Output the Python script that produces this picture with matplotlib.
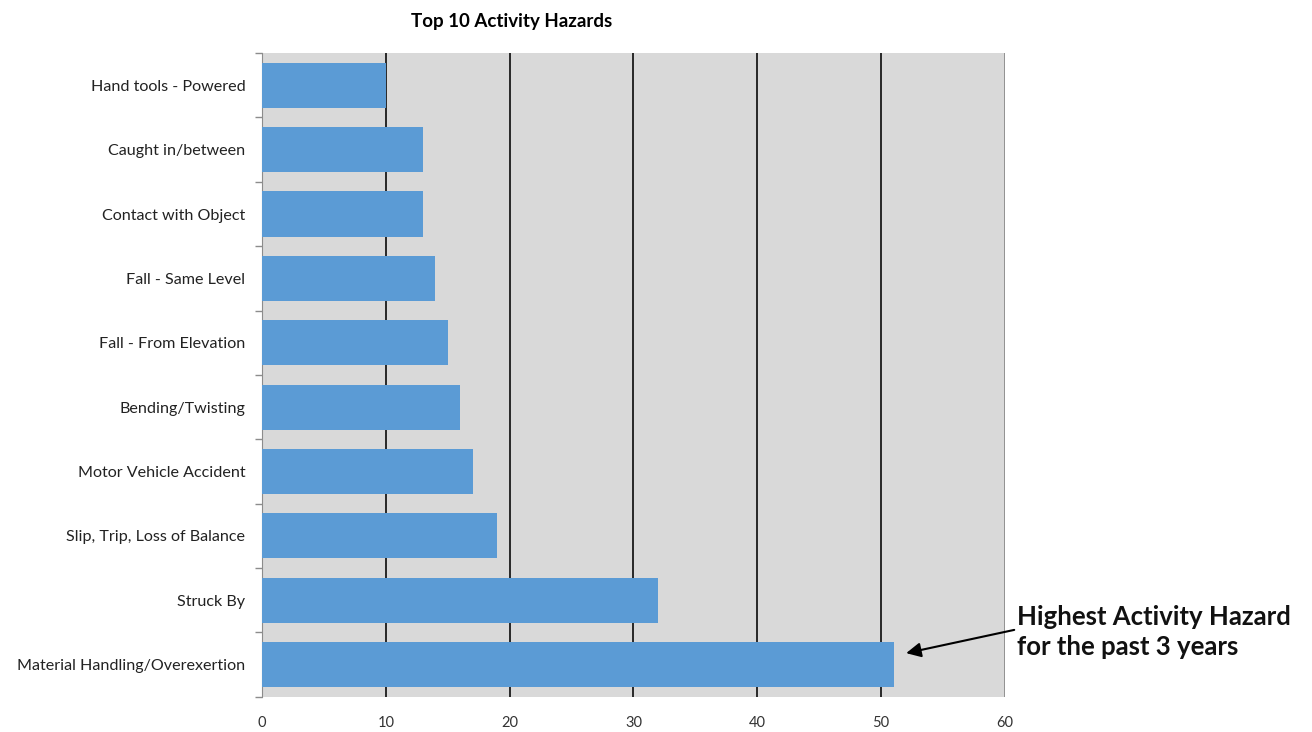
import matplotlib
matplotlib.use('Agg')
import matplotlib.pyplot as plt
from matplotlib.ticker import FixedLocator, NullFormatter

plt.rcParams['font.family'] = ['Lato', 'DejaVu Sans']

# categories from bottom to top, as drawn
hazards = [
    'Material Handling/Overexertion',
    'Struck By',
    'Slip, Trip, Loss of Balance',
    'Motor Vehicle Accident',
    'Bending/Twisting',
    'Fall - From Elevation',
    'Fall - Same Level',
    'Contact with Object',
    'Caught in/between',
    'Hand tools - Powered',
]
counts = [51, 32, 19, 17, 16, 15, 14, 13, 13, 10]
x_ticks = [0, 10, 20, 30, 40, 50, 60]

fig = plt.figure(figsize=(13.12, 7.32), dpi=100)
ax = fig.add_axes([0.1997, 0.048, 0.5663, 0.8795])
ax.set_facecolor('#d9d9d9')

ypos = list(range(len(hazards)))
ax.barh(ypos, counts, height=0.7, color='#5b9bd5', zorder=3)

ax.set_xlim(0, 60)
ax.set_ylim(-0.5, len(hazards) - 0.5)
ax.set_xticks(x_ticks)
ax.set_xticklabels([str(t) for t in x_ticks], fontsize=10.5, color='#333333')
ax.tick_params(axis='x', length=0, pad=14)

for t in x_ticks[1:-1]:
    ax.axvline(t, color='#1a1a1a', lw=1.3, zorder=2)
ax.axvline(60, color='#8c8c8c', lw=1.3, zorder=2)

ax.set_yticks(ypos)
ax.set_yticklabels(hazards, fontsize=11.6, color='#222222')
ax.yaxis.set_minor_locator(FixedLocator([i - 0.5 for i in range(len(hazards) + 1)]))
ax.yaxis.set_minor_formatter(NullFormatter())
ax.tick_params(axis='y', which='major', length=0, pad=12)
ax.tick_params(axis='y', which='minor', length=5, color='#8c8c8c', width=1)

for s in ['top', 'right', 'bottom']:
    ax.spines[s].set_visible(False)
ax.spines['left'].set_color('#8c8c8c')

# title sits left of the axes centre in the original
fig.text(512 / 1312, 1 - 22 / 732, 'Top 10 Activity Hazards',
         fontsize=13.5, fontweight='bold', ha='center', va='center')

ax.annotate('Highest Activity Hazard\nfor the past 3 years',
            xy=(51.8, 0.17), xycoords='data',
            xytext=(1017, 100), textcoords='figure pixels',
            fontsize=18.5, fontweight='bold', color='#111111',
            ha='left', va='center', linespacing=1.3,
            arrowprops=dict(arrowstyle='-|>', color='black', lw=1.5,
                            mutation_scale=22, shrinkA=0,
                            relpos=(0, 0.55)),
            annotation_clip=False)

fig.savefig('out.png', dpi=100)
